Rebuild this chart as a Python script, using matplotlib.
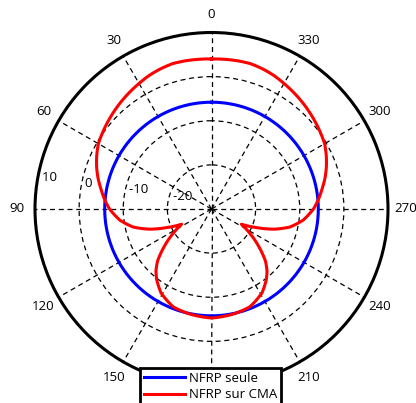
import numpy as np
import matplotlib
matplotlib.use("Agg")
import matplotlib.pyplot as plt

plt.rcParams["font.family"] = ["Open Sans", "DejaVu Sans"]

# red pattern, read on the left half (symmetric about the 0-180 axis)
RED_ANGLES_HALF = [0, 10, 15, 20, 25, 30, 40, 50, 60, 65, 70, 75, 80, 85, 90,
                   97, 103, 108, 112.5, 117, 122.5, 129, 134, 138, 142, 149,
                   158.5, 168, 180]
RED_DB_HALF = [4.0, 4.1, 4.1, 3.8, 3.4, 2.85, 1.8, 0.7, -0.4, -1.3, -2.3,
               -3.4, -4.6, -5.7, -6.9, -9.1, -11.8, -15.2, -19.0, -22.4,
               -19.7, -16.0, -13.0, -11.2, -9.8, -7.8, -6.2, -5.7, -5.3]

BLUE_ANGLES = list(range(0, 361, 10))
BLUE_LEVEL = -5.8

THETA_TICKS = list(range(0, 360, 30))
R_TICKS = [-20, -10, 0, 10]
R_MIN, R_MAX = -30, 10

LABELS = ["NFRP seule", "NFRP sur CMA"]


def main():
    red_angles = RED_ANGLES_HALF + [360 - a for a in RED_ANGLES_HALF[::-1][1:]]
    red_db = RED_DB_HALF + RED_DB_HALF[::-1][1:]
    blue_db = [BLUE_LEVEL] * len(BLUE_ANGLES)

    fig = plt.figure(figsize=(4.16, 4.03), dpi=100)
    ax = fig.add_axes([35 / 416, 17.5 / 403, 353 / 416, 353 / 403],
                      projection="polar")
    ax.set_theta_zero_location("N")
    ax.set_theta_direction(1)
    ax.set_ylim(R_MIN, R_MAX)

    ax.set_thetagrids(THETA_TICKS, labels=[""] * len(THETA_TICKS))
    ax.set_rgrids(R_TICKS[:-1], labels=[""] * (len(R_TICKS) - 1))
    ax.set_axisbelow(True)
    ax.grid(True, color="k", linestyle=(0, (4, 3)), linewidth=0.9)
    ax.spines["polar"].set_linewidth(2.2)
    ax.spines["polar"].set_color("k")

    lines = []
    lines += ax.plot(np.deg2rad(BLUE_ANGLES), blue_db, color="#0000ff", lw=2.2,
                     label=LABELS[0])
    lines += ax.plot(np.deg2rad(red_angles), red_db, color="#ff0000", lw=2.2,
                     label=LABELS[1])
    # draw segments as curves in polar space, not as straight chords
    for ln in lines:
        ln.get_path()._interpolation_steps = 30

    # angle labels outside the ring
    r_lab = R_MIN + 1.1 * (R_MAX - R_MIN)
    for t in THETA_TICKS:
        ax.text(np.deg2rad(t), r_lab, str(t), ha="center", va="center",
                fontsize=9.5, clip_on=False)

    # dB labels, matlab style near the 90 spoke
    for v in R_TICKS:
        ax.text(np.deg2rad(82), v + 0.5, "  " + str(v), ha="left", va="bottom",
                fontsize=9.5)

    leg = fig.legend(loc="upper center", bbox_to_anchor=(210.5 / 416, (403 - 368) / 403),
                     fontsize=9.5, frameon=True, fancybox=False, framealpha=1,
                     edgecolor="k", handlelength=3.1, handletextpad=0.3,
                     labelspacing=0.25, borderpad=0.3, borderaxespad=0)
    leg.get_frame().set_linewidth(2.0)

    fig.savefig("out.png", dpi=100)


if __name__ == "__main__":
    main()
